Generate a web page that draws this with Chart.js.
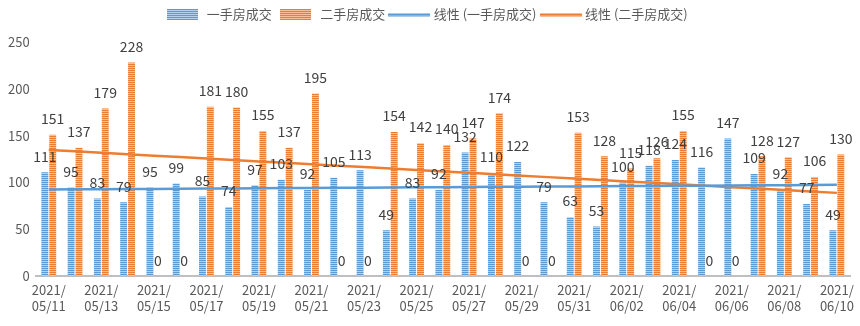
<!DOCTYPE html>
<html>
<head>
<meta charset="utf-8">
<script src="https://cdn.jsdelivr.net/npm/chart.js@4.4.1/dist/chart.umd.min.js"></script>
<style>
  html, body { margin: 0; padding: 0; background: #fff; }
  #wrap { width: 860px; height: 326px; }
</style>
</head>
<body>
<div id="wrap"><canvas id="myChart" width="860" height="326"></canvas></div>
<script>
// data
const dates = ['2021/05/11','2021/05/12','2021/05/13','2021/05/14','2021/05/15','2021/05/16','2021/05/17','2021/05/18',
  '2021/05/19','2021/05/20','2021/05/21','2021/05/22','2021/05/23','2021/05/24','2021/05/25','2021/05/26',
  '2021/05/27','2021/05/28','2021/05/29','2021/05/30','2021/05/31','2021/06/01','2021/06/02','2021/06/03',
  '2021/06/04','2021/06/05','2021/06/06','2021/06/07','2021/06/08','2021/06/09','2021/06/10'];
const firstHand = [111,95,83,79,95,99,85,74,97,103,92,105,113,49,83,92,132,110,122,79,63,53,100,118,124,116,147,109,92,77,49];
const secondHand = [151,137,179,228,0,0,181,180,155,137,195,0,0,154,142,140,147,174,0,0,153,128,115,126,155,0,0,128,127,106,130];
const yTicks = [0, 50, 100, 150, 200, 250];

const FONT = "'Noto Sans CJK SC', 'Noto Sans', sans-serif";

// linear trend like excel does it
function trend(vals) {
    let n = vals.length, sx = 0, sy = 0, sxy = 0, sxx = 0
    vals.forEach((v, i) => { sx += i; sy += v; sxy += i * v; sxx += i * i })
    let b = (n * sxy - sx * sy) / (n * sxx - sx * sx)
    let a = (sy - b * sx) / n
    return vals.map((v, i) => a + b * i)
}

function stripes(main, light) {
    let c = document.createElement('canvas')
    c.width = 4; c.height = 2
    let g = c.getContext('2d')
    g.fillStyle = main; g.fillRect(0, 0, 4, 1)
    g.fillStyle = light; g.fillRect(0, 1, 4, 1)
    return g.createPattern(c, 'repeat')
}
function boxIcon(main, light) {
    let c = document.createElement('canvas')
    c.width = 31; c.height = 11
    let g = c.getContext('2d')
    for (let y = 0; y < 11; y++) {
        g.fillStyle = y % 2 ? light : main
        g.fillRect(0, y, 31, 1)
    }
    return c
}
function lineIcon(color) {
    let c = document.createElement('canvas')
    c.width = 42; c.height = 4
    let g = c.getContext('2d')
    g.fillStyle = color
    g.fillRect(0, 1, 42, 2.5)
    return c
}

const blue = '#5B9BD5', blueLight = '#B4D0EC'
const orange = '#ED7D31', orangeLight = '#F7BE99'
const legendIcons = [boxIcon(blue, blueLight), boxIcon(orange, orangeLight), lineIcon(blue), lineIcon(orange)]

const valueLabels = {
    id: 'valueLabels',
    beforeInit(chart) {
        // a bit more room below the legend
        let fit = chart.legend.fit
        chart.legend.fit = function () {
            fit.bind(chart.legend)()
            this.height += 11
        }
    },
    afterDatasetsDraw(chart) {
        let ctx = chart.ctx
        ctx.save()
        ctx.font = '14px ' + FONT
        ctx.fillStyle = '#404040'
        ctx.textAlign = 'center'
        ctx.textBaseline = 'middle'
        ;[0, 1].forEach(di => {
            let meta = chart.getDatasetMeta(di)
            meta.data.forEach((bar, i) => {
                ctx.fillText(chart.data.datasets[di].data[i], bar.x, bar.y - 16)
            })
        })
        ctx.restore()
    }
}

const ctx = document.getElementById('myChart')
new Chart(ctx, {
    type: 'bar',
    data: {
        labels: dates,
        datasets: [{
            label: '一手房成交',
            data: firstHand,
            backgroundColor: stripes(blue, blueLight),
            categoryPercentage: 0.6,
            barPercentage: 0.88,
            order: 1
        }, {
            label: '二手房成交',
            data: secondHand,
            backgroundColor: stripes(orange, orangeLight),
            categoryPercentage: 0.6,
            barPercentage: 0.88,
            order: 1
        }, {
            type: 'line',
            label: '线性 (一手房成交)',
            data: trend(firstHand),
            borderColor: blue,
            borderWidth: 2.5,
            pointRadius: 0,
            order: 0
        }, {
            type: 'line',
            label: '线性 (二手房成交)',
            data: trend(secondHand),
            borderColor: orange,
            borderWidth: 2.5,
            pointRadius: 0,
            order: 0
        }]
    },
    options: {
        responsive: false,
        animation: false,
        layout: { padding: { left: 2, right: 10, top: 2, bottom: 6 } },
        plugins: {
            tooltip: { enabled: false },
            legend: {
                position: 'top',
                labels: {
                    usePointStyle: true,
                    pointStyleWidth: 36,
                    padding: 6,
                    color: '#595959',
                    font: { size: 13, family: FONT },
                    sort: (a, b) => a.datasetIndex - b.datasetIndex,
                    generateLabels(chart) {
                        let items = Chart.defaults.plugins.legend.labels.generateLabels(chart)
                        items.forEach(it => { it.pointStyle = legendIcons[it.datasetIndex] })
                        return items
                    }
                }
            }
        },
        scales: {
            y: {
                min: 0,
                max: 250,
                afterBuildTicks: axis => { axis.ticks = yTicks.map(v => ({ value: v })) },
                grid: { display: false, drawTicks: false },
                border: { display: false },
                ticks: { color: '#595959', font: { size: 13, family: FONT }, padding: 6 }
            },
            x: {
                grid: { display: false, drawTicks: false },
                border: { display: true, color: '#BFBFBF', width: 2 },
                ticks: {
                    autoSkip: false,
                    maxRotation: 0,
                    color: '#595959',
                    font: { size: 13, family: FONT, lineHeight: 1.3 },
                    padding: 5,
                    callback: function (v, i) {
                        if (i % 2) return ''
                        let d = dates[i]
                        return [d.slice(0, 5), d.slice(5)]
                    }
                }
            }
        }
    },
    plugins: [valueLabels]
});
</script>
</body>
</html>
